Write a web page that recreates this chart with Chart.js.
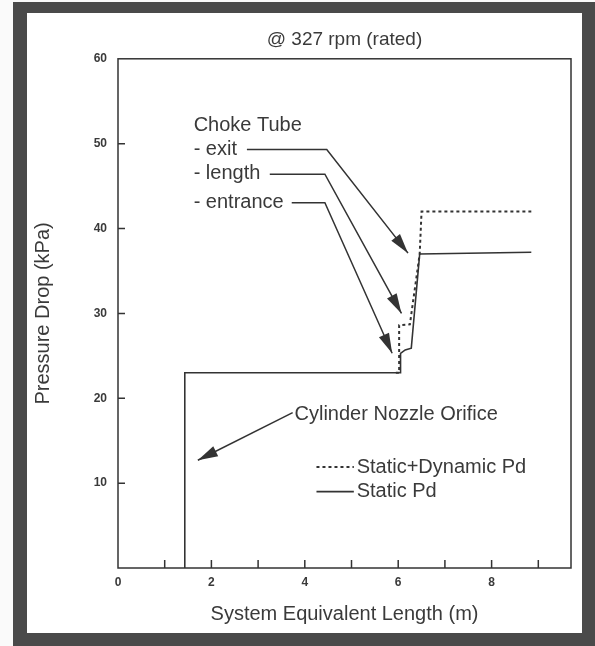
<!DOCTYPE html>
<html>
<head>
<meta charset="utf-8">
<title>Pressure Drop @ 327 rpm</title>
<script src="https://cdn.jsdelivr.net/npm/chart.js@4.4.1/dist/chart.umd.min.js"></script>
<style>
    html, body { margin: 0; padding: 0; background: #fff; }
    #wrap { width: 595px; height: 646px; }
</style>
</head>
<body>
<div id="wrap"><canvas id="pdChart" width="595" height="646"></canvas></div>
<script>
// ── Data
var STATIC_X  = [1.43, 1.43, 6.05, 6.05, 6.15, 6.28, 6.46, 8.85];
var STATIC_Y  = [0,    23,   23,   25.3, 25.7, 25.9, 37.0, 37.2];
// dotted curve sits on the solid one up to ~6 m, so it is drawn from there
var DYNAMIC_X = [5.95, 6.02, 6.02, 6.25, 6.46, 6.50, 8.85];
var DYNAMIC_Y = [23,   23,   28.6, 28.7, 37.0, 42.0, 42.0];

var X_TICKS  = [0, 1, 2, 3, 4, 5, 6, 7, 8, 9];
var X_LABELS = ['0', '', '2', '', '4', '', '6', '', '8', ''];
var Y_TICKS  = [0, 10, 20, 30, 40, 50, 60];
var Y_LABELS = ['', '10', '20', '30', '40', '50', '60'];

var SERIES_NAMES = ['Static+Dynamic Pd', 'Static Pd'];

// annotation text + arrows, in data units
var NOTES = [
    { text: 'Choke Tube',              x: 1.62, y: 52.1 },
    { text: '- exit',                  x: 1.62, y: 49.3 },
    { text: '- length',                x: 1.62, y: 46.5 },
    { text: '- entrance',              x: 1.62, y: 43.1 },
    { text: 'Cylinder Nozzle Orifice', x: 3.78, y: 18.1 }
];
var ARROWS = [
    [[2.76, 49.3], [4.47, 49.3], [6.21, 37.1]],
    [[3.25, 46.4], [4.43, 46.4], [6.07, 30.0]],
    [[3.72, 43.05], [4.43, 43.05], [5.87, 25.3]],
    [[3.74, 18.3], [1.71, 12.7]]
];

var INK  = '#333333';
var TEXT = '#3a3a3a';
var FONT = "'Liberation Sans', Arial, sans-serif";

function pts(xs, ys) {
    return xs.map(function(x, i) { return { x: x, y: ys[i] }; });
}

// scanned-page frame behind everything
var framePlugin = {
    id: 'frame',
    beforeDraw: function(chart) {
        var c = chart.ctx;
        c.save();
        c.fillStyle = '#fafafa';
        c.fillRect(0, 0, chart.width, chart.height);
        c.fillStyle = '#4a4a4a';
        c.fillRect(13, 2, chart.width - 13, chart.height - 2);
        c.fillStyle = '#ffffff';
        c.fillRect(27, 13, chart.width - 27 - 13, chart.height - 13 - 13);
        c.restore();
    }
};

// box around plot + inward tick marks
var boxPlugin = {
    id: 'box',
    afterDatasetsDraw: function(chart) {
        var c = chart.ctx, a = chart.chartArea;
        var xs = chart.scales.x, ys = chart.scales.y;
        c.save();
        c.strokeStyle = INK;
        c.lineWidth = 1.5;
        c.strokeRect(a.left, a.top, a.right - a.left, a.bottom - a.top);
        c.beginPath();
        X_TICKS.forEach(function(v) {
            if (v === xs.min) return;
            var px = xs.getPixelForValue(v);
            c.moveTo(px, a.bottom); c.lineTo(px, a.bottom - 8);
        });
        Y_TICKS.forEach(function(v) {
            if (v === ys.min || v === ys.max) return;
            var py = ys.getPixelForValue(v);
            c.moveTo(a.left, py); c.lineTo(a.left + 7, py);
        });
        c.stroke();
        c.restore();
    }
};

function arrowHead(c, x0, y0, x1, y1) {
    var ang = Math.atan2(y1 - y0, x1 - x0), len = 20, hw = 5.5;
    c.beginPath();
    c.moveTo(x1, y1);
    c.lineTo(x1 - len * Math.cos(ang) + hw * Math.sin(ang), y1 - len * Math.sin(ang) - hw * Math.cos(ang));
    c.lineTo(x1 - len * Math.cos(ang) - hw * Math.sin(ang), y1 - len * Math.sin(ang) + hw * Math.cos(ang));
    c.closePath();
    c.fill();
}

// labels, arrows and the in-plot legend
var notesPlugin = {
    id: 'notes',
    afterDatasetsDraw: function(chart) {
        var c = chart.ctx, xs = chart.scales.x, ys = chart.scales.y;
        c.save();
        c.font = '20px ' + FONT;
        c.fillStyle = TEXT;
        c.textBaseline = 'middle';
        c.textAlign = 'left';
        NOTES.forEach(function(n) {
            c.fillText(n.text, xs.getPixelForValue(n.x), ys.getPixelForValue(n.y));
        });

        c.strokeStyle = INK;
        c.fillStyle = INK;
        c.lineWidth = 1.5;
        ARROWS.forEach(function(path) {
            var p = path.map(function(q) { return [xs.getPixelForValue(q[0]), ys.getPixelForValue(q[1])]; });
            c.beginPath();
            c.moveTo(p[0][0], p[0][1]);
            for (var i = 1; i < p.length; i++) c.lineTo(p[i][0], p[i][1]);
            c.stroke();
            var n = p.length;
            arrowHead(c, p[n - 2][0], p[n - 2][1], p[n - 1][0], p[n - 1][1]);
        });

        // legend
        var lx0 = xs.getPixelForValue(4.25), lx1 = xs.getPixelForValue(5.05), tx = xs.getPixelForValue(5.11);
        var rows = [11.9, 9.0];
        chart.data.datasets.forEach(function(ds, i) {
            var py = ys.getPixelForValue(rows[i]);
            c.strokeStyle = ds.borderColor;
            c.lineWidth = ds.borderWidth;
            c.setLineDash(ds.borderDash || []);
            c.beginPath(); c.moveTo(lx0, py); c.lineTo(lx1, py); c.stroke();
            c.setLineDash([]);
            c.fillStyle = TEXT;
            c.fillText(ds.label, tx, py);
        });
        c.restore();
    }
};

(function() {
    if (typeof Chart === 'undefined') { console.error('Chart.js not loaded'); return; }
    Chart.defaults.font.family = FONT;
    Chart.defaults.color = TEXT;

    new Chart(document.getElementById('pdChart').getContext('2d'), {
        type: 'scatter',
        data: {
            datasets: [
                { label: SERIES_NAMES[0], data: pts(DYNAMIC_X, DYNAMIC_Y), showLine: true, borderColor: INK, borderWidth: 2, borderDash: [3, 3], pointRadius: 0, tension: 0, fill: false },
                { label: SERIES_NAMES[1], data: pts(STATIC_X, STATIC_Y),   showLine: true, borderColor: INK, borderWidth: 1.6, pointRadius: 0, tension: 0, fill: false }
            ]
        },
        options: {
            responsive: false,
            animation: false,
            events: [],
            layout: { padding: { left: 27, right: 24, top: 0, bottom: 16 } },
            plugins: {
                legend: { display: false },
                tooltip: { enabled: false },
                title: { display: true, text: '@ 327 rpm (rated)', fullSize: false, color: TEXT,
                         font: { size: 19, weight: 'normal' }, padding: { top: 28, bottom: 8 } }
            },
            scales: {
                x: {
                    type: 'linear', min: 0, max: 9.7,
                    grid: { display: false, drawTicks: false }, border: { display: false },
                    afterBuildTicks: function(s) { s.ticks = X_TICKS.map(function(v) { return { value: v }; }); },
                    afterFit: function(s) { s.height = 62; },
                    ticks: { autoSkip: false, maxRotation: 0, padding: 7, font: { size: 12, weight: 'bold' },
                             callback: function(v, i) { return X_LABELS[i]; } },
                    title: { display: true, text: 'System Equivalent Length (m)', font: { size: 20 }, padding: { top: 4, bottom: 4 } }
                },
                y: {
                    type: 'linear', min: 0, max: 60,
                    grid: { display: false, drawTicks: false }, border: { display: false },
                    afterBuildTicks: function(s) { s.ticks = Y_TICKS.map(function(v) { return { value: v }; }); },
                    afterFit: function(s) { s.width = 91; },
                    ticks: { autoSkip: false, padding: 11, font: { size: 12, weight: 'bold' },
                             callback: function(v, i) { return Y_LABELS[i]; } },
                    title: { display: true, text: 'Pressure Drop (kPa)', font: { size: 20 }, padding: { top: 4, bottom: 4 } }
                }
            }
        },
        plugins: [framePlugin, boxPlugin, notesPlugin]
    });
})();
</script>
</body>
</html>
